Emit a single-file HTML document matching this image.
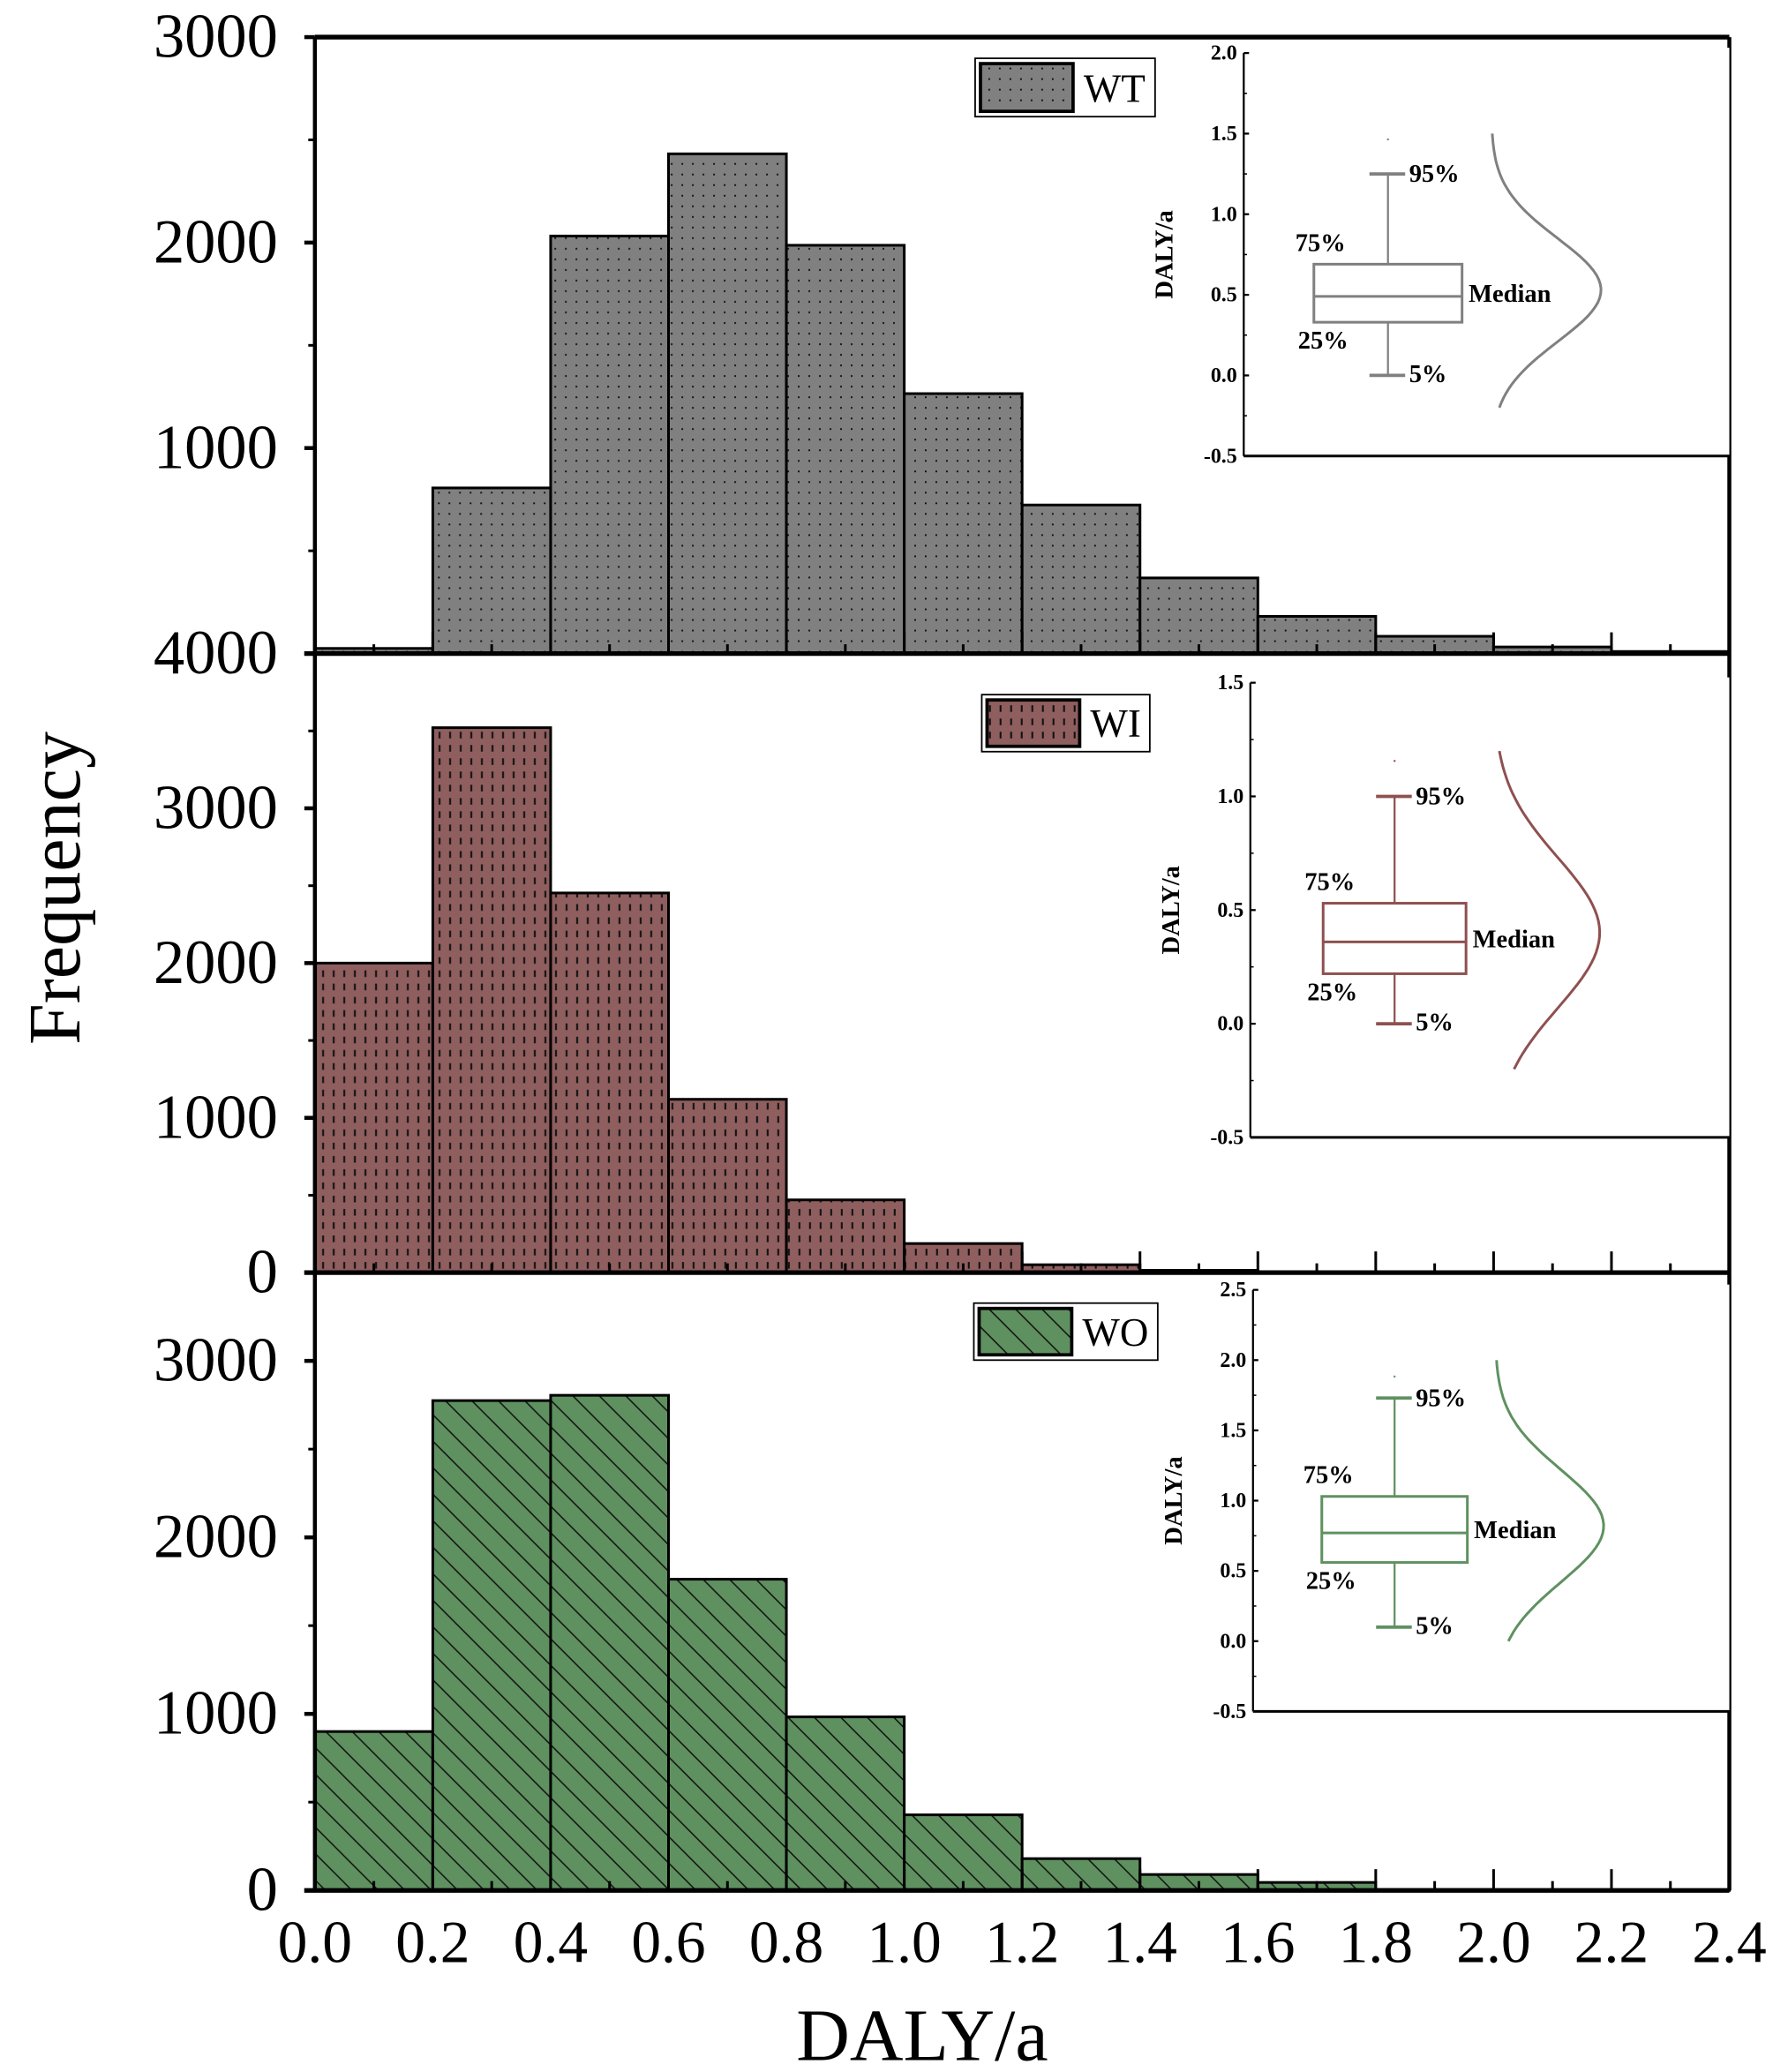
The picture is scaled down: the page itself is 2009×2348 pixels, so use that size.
<!DOCTYPE html>
<html><head><meta charset="utf-8"><style>
html,body{margin:0;padding:0;background:#fff}
svg{display:block}
text{font-family:"Liberation Serif",serif}
</style></head><body>
<svg id="chart" width="2009" height="2348" viewBox="0 0 1340 1563" preserveAspectRatio="none" xmlns="http://www.w3.org/2000/svg">
<defs>
<pattern id="pWT" width="8" height="8" patternUnits="userSpaceOnUse"><rect width="8" height="8" fill="#808080"/><rect x="3" y="3" width="1.3" height="1.3" fill="#111"/></pattern>
<pattern id="pWI" width="8" height="10" patternUnits="userSpaceOnUse"><rect width="8" height="10" fill="#8f5e5e"/><rect x="3.5" y="2" width="1.4" height="5" fill="#111"/></pattern>
<pattern id="pWO" width="20" height="20" patternUnits="userSpaceOnUse"><rect width="20" height="20" fill="#5f9160"/><path d="M-5,-5 L25,25 M-5,15 L5,25 M15,-5 L25,5" stroke="#111" stroke-width="1"/></pattern>
</defs>
<g id="root"></g>
</svg>
<script>
// ---- data ----
const binEdges = [0,0.2,0.4,0.6,0.8,1.0,1.2,1.4,1.6,1.8,2.0,2.2,2.4];
const xTickLabels = ["0.0","0.2","0.4","0.6","0.8","1.0","1.2","1.4","1.6","1.8","2.0","2.2","2.4"];
const wtCounts = [25,806,2032,2432,1987,1265,723,368,181,84,32,10];
const wiCounts = [2000,3521,2453,1120,470,188,51,15,5,4,3,2];
const woCounts = [900,2775,2805,1763,983,428,180,90,45,5,4,3];
const wtYTicks = [0,1000,2000,3000];
const wtYLabels = ["4000","1000","2000","3000"];
const wiYTicks = [0,1000,2000,3000];
const woYTicks = [0,1000,2000,3000];
// box stats: [p5, q1, median, q3, p95, outlier]
const wtBox = [0.0,0.33,0.49,0.69,1.25,1.47];
const wiBox = [0.0,0.22,0.36,0.53,1.0,1.16];
const woBox = [0.1,0.56,0.77,1.03,1.73,1.89];
const wtInsetTicks = [-0.5,0.0,0.5,1.0,1.5,2.0];
const wiInsetTicks = [-0.5,0.0,0.5,1.0,1.5];
const woInsetTicks = [-0.5,0.0,0.5,1.0,1.5,2.0,2.5];
// fitted normal curve: [mean, sd, yFrom, yTo]
const wtCurve = [0.53,0.32,-0.2,1.5];
const wiCurve = [0.40,0.33,-0.2,1.2];
const woCurve = [0.82,0.40,0.0,2.0];

const NS="http://www.w3.org/2000/svg";
const root=document.getElementById('root');
function el(tag,attrs,parent,text){const e=document.createElementNS(NS,tag);for(const k in attrs)e.setAttribute(k,attrs[k]);if(text!==undefined)e.textContent=text;(parent||root).appendChild(e);return e;}
const X0=238,X1=1307;
const xS=v=>X0+(v-binEdges[0])/(binEdges[binEdges.length-1]-binEdges[0])*(X1-X0);

function panel(cfg){
  const g=el('g',{});
  
  
  const yS=v=>cfg.bot-(v/cfg.yMax)*(cfg.bot-cfg.top);
  cfg.counts.forEach((c,i)=>{
    const y=yS(c);
    const r=el('rect',{x:xS(binEdges[i]),y:y,width:xS(binEdges[i+1])-xS(binEdges[i]),height:cfg.bot-y,fill:'url(#'+cfg.pat+')',stroke:'#000','stroke-width':2},g);
    
    
  });
  el('line',{x1:X0,y1:cfg.top,x2:X0,y2:cfg.bot,stroke:'#000','stroke-width':3},g);
  el('line',{x1:X1,y1:cfg.top,x2:X1,y2:cfg.bot,stroke:'#000','stroke-width':3},g);
  el('line',{x1:X0-8,y1:cfg.bot,x2:X1,y2:cfg.bot,stroke:'#000','stroke-width':3.5},g);
  if(cfg.drawTop) el('line',{x1:X0,y1:cfg.top,x2:X1,y2:cfg.top,stroke:'#000','stroke-width':3.5},g);
  for(let i=0;i<binEdges.length;i++){
    el('line',{x1:xS(binEdges[i]),y1:cfg.bot,x2:xS(binEdges[i]),y2:cfg.bot-16,stroke:'#000','stroke-width':2},g);
    if(i<binEdges.length-1){const m=(binEdges[i]+binEdges[i+1])/2;el('line',{x1:xS(m),y1:cfg.bot,x2:xS(m),y2:cfg.bot-7,stroke:'#000','stroke-width':2},g);}
  }
  cfg.yTicks.forEach((t,i)=>{
    const y=yS(t);
    el('line',{x1:X0-8,y1:y,x2:X0,y2:y,stroke:'#000','stroke-width':3},g);
    const lab=el('text',{x:210,y:y+15,'text-anchor':'end','font-size':47},g,cfg.yLabels?cfg.yLabels[i]:String(t));
    
    
    const m=t+500;
    if(yS(m)>=cfg.top-1) el('line',{x1:X0-5,y1:yS(m),x2:X0,y2:yS(m),stroke:'#000','stroke-width':2},g);
  });
  if(cfg.topLabel){const lab=el('text',{x:210,y:cfg.top+15,'text-anchor':'end','font-size':47},g,cfg.topLabel);
    el('line',{x1:X0-8,y1:cfg.top,x2:X0,y2:cfg.top,stroke:'#000','stroke-width':3},g);}
  const L=cfg.legend;
  const lg=el('g',{},g);
  
  
  el('rect',{x:L[0],y:L[1],width:L[2],height:L[3],fill:'#fff',stroke:'#000','stroke-width':1.2},lg);
  el('rect',{x:L[0]+4,y:L[1]+4,width:70,height:L[3]-8,fill:'url(#'+cfg.pat+')',stroke:'#000','stroke-width':2.5},lg);
  el('text',{x:L[0]+82,y:L[1]+L[3]-11,'font-size':30},lg,cfg.label);
  const I=cfg.inset;
  const ig=el('g',{},g);
  
  
  const iT=cfg.iTicks, lo=iT[0], hi=iT[iT.length-1];
  const iy=v=>I.bot-(v-lo)/(hi-lo)*(I.bot-I.top);
  el('rect',{x:I.left,y:I.top-4,width:X1-I.left,height:I.bot-I.top+4,fill:'#fff'},ig);
  el('line',{x1:I.left,y1:I.top,x2:I.left,y2:I.bot,stroke:'#000','stroke-width':1.5},ig);
  el('line',{x1:I.left,y1:I.bot,x2:X1,y2:I.bot,stroke:'#000','stroke-width':2},ig);
  iT.forEach((t,i)=>{
    const y=iy(t);
    el('line',{x1:I.left,y1:y,x2:I.left+4,y2:y,stroke:'#000','stroke-width':1.5},ig);
    if(i<iT.length-1) el('line',{x1:I.left,y1:iy(t+0.25),x2:I.left+2.5,y2:iy(t+0.25),stroke:'#000','stroke-width':1},ig);
    el('text',{x:I.left-5,y:y+5,'text-anchor':'end','font-size':16,'font-weight':'bold'},ig,t.toFixed(1));
  });
  const yl=el('text',{x:0,y:0,'font-size':19,'font-weight':'bold','text-anchor':'middle',transform:'translate('+(I.left-54)+','+((I.top+I.bot)/2)+') rotate(-90)'},ig,'DALY/a');
  
  
  const B=cfg.box, col=cfg.col, bx0=I.bx, bx1=I.bx+I.bw, cx=(bx0+bx1)/2;
  el('rect',{x:bx0,y:iy(B[3]),width:I.bw,height:iy(B[1])-iy(B[3]),fill:'none',stroke:col,'stroke-width':2},ig);
  el('line',{x1:bx0,y1:iy(B[2]),x2:bx1,y2:iy(B[2]),stroke:col,'stroke-width':2},ig);
  el('line',{x1:cx,y1:iy(B[4]),x2:cx,y2:iy(B[3]),stroke:col,'stroke-width':1.5},ig);
  el('line',{x1:cx,y1:iy(B[1]),x2:cx,y2:iy(B[0]),stroke:col,'stroke-width':1.5},ig);
  el('line',{x1:cx-14,y1:iy(B[4]),x2:cx+13,y2:iy(B[4]),stroke:col,'stroke-width':2.5},ig);
  el('line',{x1:cx-14,y1:iy(B[0]),x2:cx+13,y2:iy(B[0]),stroke:col,'stroke-width':2.5},ig);
  el('rect',{x:cx-0.7,y:iy(B[5]),width:1.4,height:1.4,fill:col},ig);
  const fs={'font-size':19,'font-weight':'bold'};
  el('text',Object.assign({x:cx+16,y:iy(B[4])+6},fs),ig,'95%');
  el('text',Object.assign({x:bx0-14,y:iy(B[3])-10},fs),ig,'75%');
  el('text',Object.assign({x:bx1+5,y:iy(B[2])+4},fs),ig,'Median');
  el('text',Object.assign({x:bx0-12,y:iy(B[1])+20},fs),ig,'25%');
  el('text',Object.assign({x:cx+16,y:iy(B[0])+5},fs),ig,'5%');
  const C=cfg.curve; let d='';
  for(let k=0;k<=60;k++){const v=C[2]+(C[3]-C[2])*k/60;const x=I.cb+I.ch*Math.exp(-0.5*Math.pow((v-C[0])/C[1],2));d+=(k?'L':'M')+x.toFixed(1)+','+iy(v).toFixed(1);}
  const cp=el('path',{d:d,fill:'none',stroke:col,'stroke-width':2},ig);
  
  
}
panel({name:'wt',counts:wtCounts,pat:'pWT',top:28,bot:493,yMax:3000,yTicks:wtYTicks,yLabels:wtYLabels,drawTop:true,legend:[737,44,136,44],label:'WT',
  inset:{left:940,top:40,bot:344,bx:993,bw:112,cb:1127,ch:83},iTicks:wtInsetTicks,box:wtBox,col:'#808080',curve:wtCurve});
panel({name:'wi',counts:wiCounts,pat:'pWI',top:493,bot:960,yMax:4000,yTicks:wiYTicks,legend:[742,524,127,43],label:'WI',
  inset:{left:945,top:515,bot:858,bx:1000,bw:108,cb:1129,ch:80},iTicks:wiInsetTicks,box:wiBox,col:'#8f5050',curve:wiCurve});
panel({name:'wo',counts:woCounts,pat:'pWO',top:960,bot:1426,yMax:3500,yTicks:woYTicks,legend:[736,983,139,43],label:'WO',
  inset:{left:947,top:973,bot:1291,bx:999,bw:110,cb:1130,ch:82},iTicks:woInsetTicks,box:woBox,col:'#5f9160',curve:woCurve});
xTickLabels.forEach((t,i)=>{
  const e=el('text',{x:xS(binEdges[i]),y:1480,'text-anchor':'middle','font-size':45},root,t);
  
  
});
const xt=el('text',{x:697,y:1554,'text-anchor':'middle','font-size':56},root,'DALY/a');


const yt=el('text',{x:0,y:0,'text-anchor':'middle','font-size':56,transform:'translate(60,670) rotate(-90)'},root,'Frequency');


</script>
</body></html>
